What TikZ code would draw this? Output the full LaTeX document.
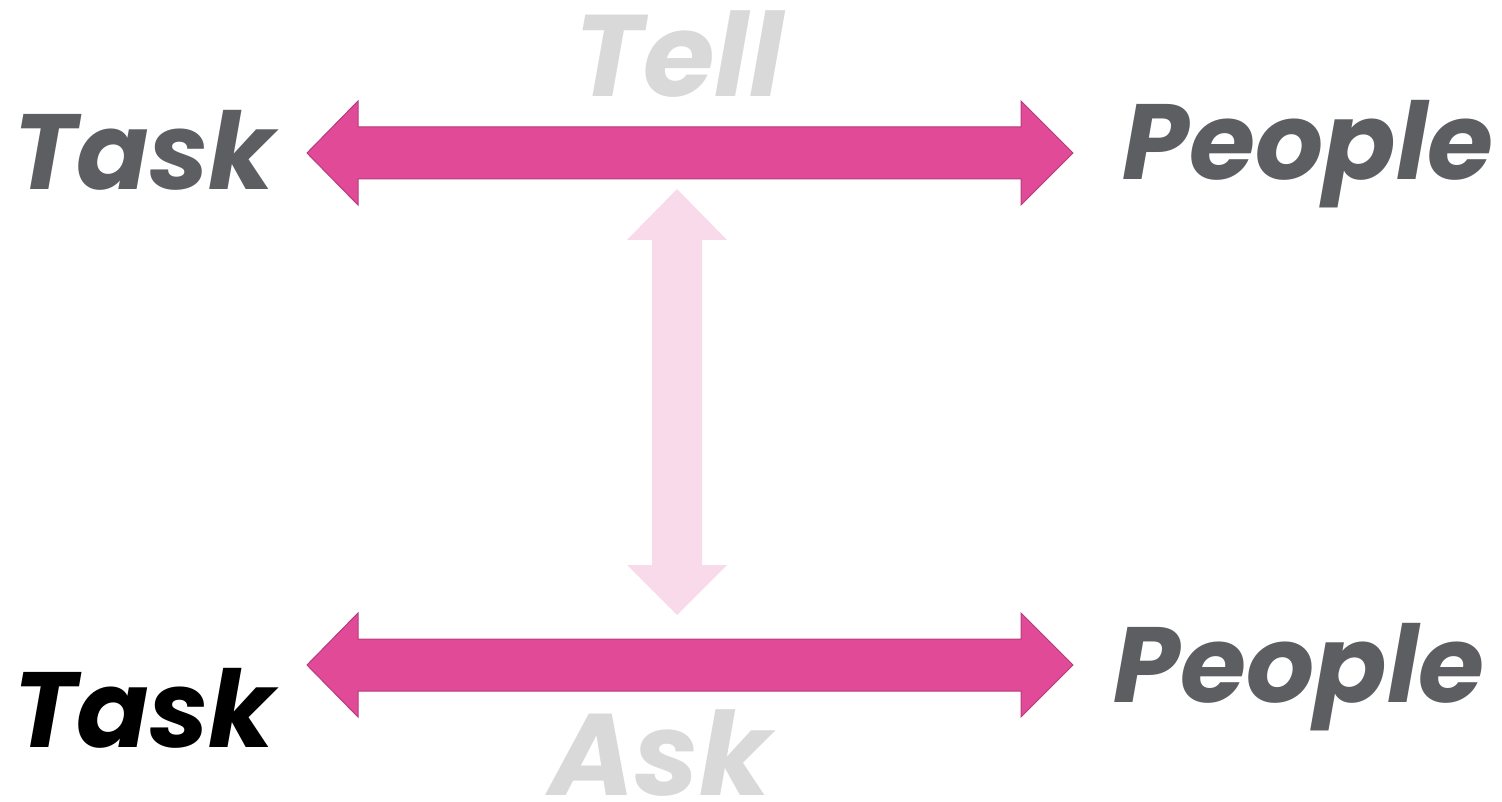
\documentclass[tikz,border=0pt]{standalone}
\usepackage{fontspec}
\setmainfont{Poppins}
\usetikzlibrary{positioning}
\definecolor{barpink}{HTML}{E04A97}
\definecolor{barrim}{HTML}{B83C7C}
\definecolor{softpink}{HTML}{F8DAEA}
\definecolor{darkword}{HTML}{5D5E62}
\definecolor{paleword}{HTML}{D9D9D9}
\tikzset{
  word/.style={font=\fontsize{107}{110}\selectfont\bfseries\itshape, inner sep=0pt},
  bigword/.style={word, font=\fontsize{116}{120}\selectfont\bfseries\itshape},
  pinkarrow/.style={fill=barpink, draw=barrim, line width=1pt, line join=miter},
  softarrow/.style={fill=softpink, draw=none}
}
\begin{document}
\begin{tikzpicture}[x=1pt, y=-1pt]
\useasboundingbox (0,0) rectangle (1502,802);

% vertical link between the two scales
\fill[softarrow] (677,189) -- (727,240) -- (702,240) -- (702,565) -- (727,565)
  -- (677,615) -- (627,565) -- (652,565) -- (652,240) -- (627,240) -- cycle;

% the two task-people scales
\foreach \yc in {153,665}
  \draw[pinkarrow] (307,\yc) -- (358,\yc-52) -- (358,\yc-26) -- (1021,\yc-26)
    -- (1021,\yc-52) -- (1073,\yc) -- (1021,\yc+52) -- (1021,\yc+26)
    -- (358,\yc+26) -- (358,\yc+52) -- cycle;

% labels
\node[bigword, text=paleword, anchor=base] (tell) at (679,97) {Tell};
\node[bigword, text=paleword, anchor=base] (ask) at (660,795) {Ask};
\node[word, text=darkword, anchor=base west] (tasktop) at (13,190) {Task};
\node[word, text=black, anchor=base west] (taskbot) at (13,747) {Task};
\node[word, text=darkword, anchor=base east] (peopletop) at (1494,180) {People};
\node[word, text=darkword, anchor=base east] (peoplebot) at (1485,702) {People};
\end{tikzpicture}
\end{document}
